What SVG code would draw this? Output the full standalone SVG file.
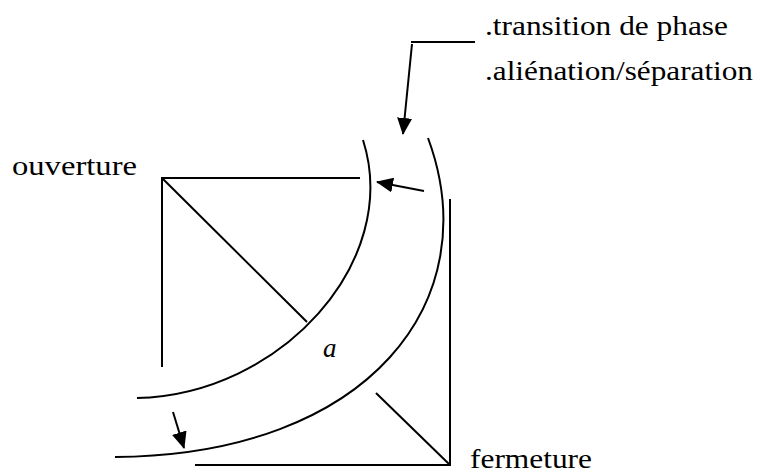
<svg xmlns="http://www.w3.org/2000/svg" width="766" height="476" viewBox="0 0 766 476">
  <style>
    .ln { stroke: #000; stroke-width: 2; fill: none; stroke-linecap: butt; }
    text { font-family: 'Liberation Serif', 'Times New Roman', Times, 'DejaVu Serif', serif; fill: #000; }
    .lbl { font-size: 28px; }
    .it { font-size: 27px; font-style: italic; }
  </style>
  <defs>
    <marker id="arr" markerUnits="userSpaceOnUse" markerWidth="17" markerHeight="15" refX="16" refY="7.5" orient="auto">
      <path d="M0,0 L17,7.5 L0,15 z" fill="#000"/>
    </marker>
  </defs>
  <rect width="766" height="476" fill="#fff"/>

  <g id="square-open">
    <path class="ln" d="M162,367 L162,178 L360,178 M162,178 L307,322"/>
  </g>
  <g id="square-close">
    <path class="ln" d="M450,199 L450,465 L195,465 M376,393 L450,465"/>
  </g>
  <g id="arc-inner">
    <path class="ln" d="M363,140 C402,262 280,395 137,398"/>
  </g>
  <g id="arc-outer">
    <path class="ln" d="M428,138 C488,300 370,455 115,457"/>
  </g>

  <g id="label-ouverture"><text class="lbl" x="12" y="175" textLength="125" lengthAdjust="spacingAndGlyphs">ouverture</text></g>
  <g id="label-fermeture"><text class="lbl" x="470" y="468" textLength="122" lengthAdjust="spacingAndGlyphs">fermeture</text></g>
  <g id="label-a"><text class="it" x="323" y="357">a</text></g>
  <g id="label-phase">
    <text class="lbl" x="485" y="35" textLength="243" lengthAdjust="spacingAndGlyphs">.transition de phase</text>
    <text class="lbl" x="485" y="80" textLength="268" lengthAdjust="spacingAndGlyphs">.aliénation/séparation</text>
  </g>

  <g id="connectors">
    <path class="ln" d="M475,42 L411,42"/>
    <path class="ln" d="M412,44 L403,134" marker-end="url(#arr)"/>
    <path class="ln" d="M424,191 L377,182" marker-end="url(#arr)"/>
    <path class="ln" d="M173,412 L184,448" marker-end="url(#arr)"/>
  </g>
</svg>
